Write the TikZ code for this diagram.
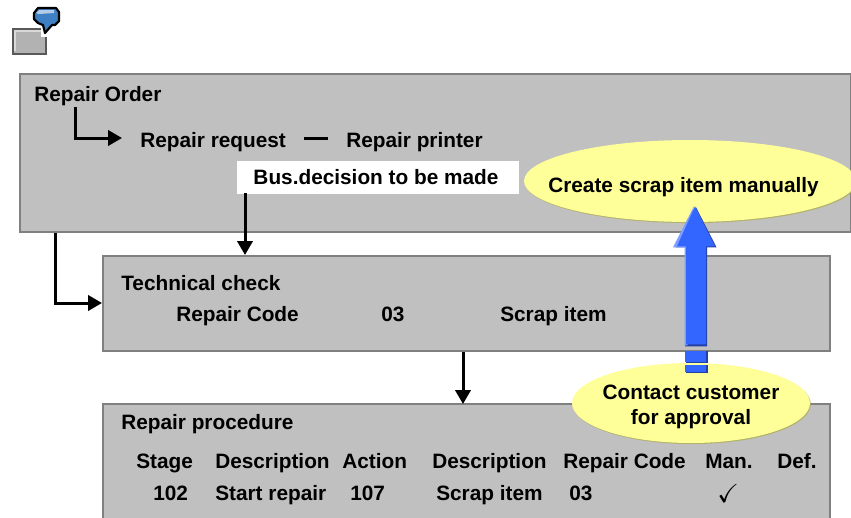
\documentclass[tikz,border=0pt]{standalone}
\usepackage{amsmath,amssymb}
\usepackage{fontspec}
\setmainfont{Liberation Sans}
\usetikzlibrary{calc,arrows.meta,shapes.geometric,shadows}
\definecolor{panelfill}{HTML}{C0C0C0}
\definecolor{panelline}{HTML}{808080}
\definecolor{noteyellow}{HTML}{FFFF99}
\definecolor{noteedge}{HTML}{B2B26B}
\definecolor{bigblue}{HTML}{3366FF}
\definecolor{bigdark}{HTML}{2340A8}
\definecolor{biglight}{HTML}{7F9FFF}
\definecolor{iconblue}{HTML}{3F7FC4}
\tikzset{
  panel/.style={draw=panelline, fill=panelfill, line width=1.5pt, anchor=north west, inner sep=0pt},
  lab/.style={font=\fontsize{15.6}{18}\selectfont\bfseries, anchor=base west, inner sep=0pt},
  notebox/.style={fill=white, font=\fontsize{15.6}{18}\selectfont\bfseries, inner sep=0pt, minimum width=211.5pt, minimum height=24.75pt},
  bubble/.style={ellipse, fill=noteyellow, inner sep=0pt,
    drop shadow={shadow xshift=0.6pt, shadow yshift=-0.8pt, opacity=1, fill=noteedge}},
  flow/.style={draw=black, line width=2.25pt, -{Triangle[length=10.5pt,width=11.5pt]}},
  bigarrow/.style={fill=bigblue, draw=none},
}

\begin{document}
\begin{tikzpicture}[x=0.75pt,y=-0.75pt]
  \clip (0,0) rectangle (851,518);

  % icon
  \draw[fill=black!30, draw=black!65, line width=1.5pt] (13,29) rectangle (46,54);
  \draw[black!15, line width=0.8pt] (15,51) -- (15,31) -- (42,31);
  \draw[white, line width=1.2pt, fill=white] (42,24) -- (48,24) -- (48,36) -- (42,36) -- cycle;
  \draw[fill=iconblue, draw=black, line width=1.6pt, line join=round]
    (34,13) -- (38,8) -- (56,8) -- (59,12) -- (59,21) -- (55,25) -- (52,25) -- (45,33) -- (43,25) -- (38,23) -- (34,19) -- cycle;
  \fill[white!60!iconblue] (36,13) -- (39,10) -- (54,10) -- (54,13) -- (39,14) -- cycle;

  % panels
  \node[panel, minimum width=623.25pt, minimum height=118.5pt] (orderbox) at (19,73) {};
  \node[panel, minimum width=545.25pt, minimum height=71.25pt] (checkbox) at (102,255) {};
  \node[panel, minimum width=545.25pt, minimum height=97.5pt] (procbox) at (102,403) {};

  \node[notebox] (decision) at (378,177.5) {\hspace*{-3pt}Bus.decision to be made};

  \node[lab] (order) at (34,101) {Repair Order};
  \node[lab] (request) at (140,147) {Repair request};
  \node[lab] (printer) at (346,147) {Repair printer};

  \node[lab] (check) at (121,290) {Technical check};
  \node[lab] (code) at (176,321) {Repair Code};
  \node[lab] (codeval) at (381,321) {03};
  \node[lab] (scrap) at (500,321) {Scrap item};

  \node[lab] (proc) at (121,429) {Repair procedure};
  \node[lab] (stage) at (136,468) {Stage};
  \node[lab] (descA) at (215,468) {Description};
  \node[lab] (action) at (342,468) {Action};
  \node[lab] (descB) at (432,468) {Description};
  \node[lab] (repcode) at (563,468) {Repair Code};
  \node[lab] (man) at (705,468) {Man.};
  \node[lab] (def) at (777,468) {Def.};
  \node[lab] (stageval) at (153,500) {102};
  \node[lab] (startrep) at (215,500) {Start repair};
  \node[lab] (actionval) at (350,500) {107};
  \node[lab] (scrapval) at (436,500) {Scrap item};
  \node[lab] (repval) at (569,500) {03};
  \node[lab] (tick) at (717,502) {\scalebox{1.25}{$\checkmark$}};

  \coordinate (orderfoot) at (75,107);
  \coordinate (orderleft) at (55,233);
  \coordinate (proctop) at (463,404);

  \draw[flow] (orderfoot) |- ([xshift=-13.5pt]request.west |- 0,138);
  \draw[draw=black, line width=2.25pt, shorten <=13.5pt, shorten >=13.5pt] (request.east |- 0,138) -- (printer.west |- 0,138);
  \draw[flow] (245,193) -- (245,255);
  \draw[flow] (orderleft) |- (checkbox.west |- 0,303);
  \draw[flow] (proctop |- checkbox.south) -- (proctop);

  % yellow notes
  \node[bubble, minimum width=249pt, minimum height=61.5pt] (create) at (690,181) {};
  \node[lab] (createlab) at (548,192) {Create scrap item manually};
  \node[bubble, minimum width=178.5pt, minimum height=60pt] (contact) at (691,403) {};
  \node[lab, anchor=base] (contactlab) at (691,399) {Contact customer};
  \node[lab, anchor=base] (approvallab) at (691,424) {for approval};

  % blue arrow
  \coordinate (tip) at ($(create.south)+(5,-16)$);
  \fill[bigdark] (tip) ++(1,1) -- ++(20.5,40) -- ++(-9.5,0) -- ++(0,99) -- ++(-22,0) -- ++(0,-99) -- ++(-9.5,0) -- cycle;
  \fill[biglight] (tip) ++(-1,0) -- ++(-21,41) -- ++(11.5,0) -- ++(0,98) -- ++(3,0) -- ++(0,-98) -- cycle;
  \path[bigarrow] (tip) -- ++(20,40) -- ++(-9,0) -- ++(0,98) -- ++(-20,0) -- ++(0,-98) -- ++(-9,0) -- cycle;
  \foreach \ya/\yb in {351/362,365/372} {
    \fill[bigdark] (686,\ya) rectangle (708,\yb+1);
    \fill[bigblue] (685,\ya) rectangle (706,\yb);
  }
\end{tikzpicture}
\end{document}
